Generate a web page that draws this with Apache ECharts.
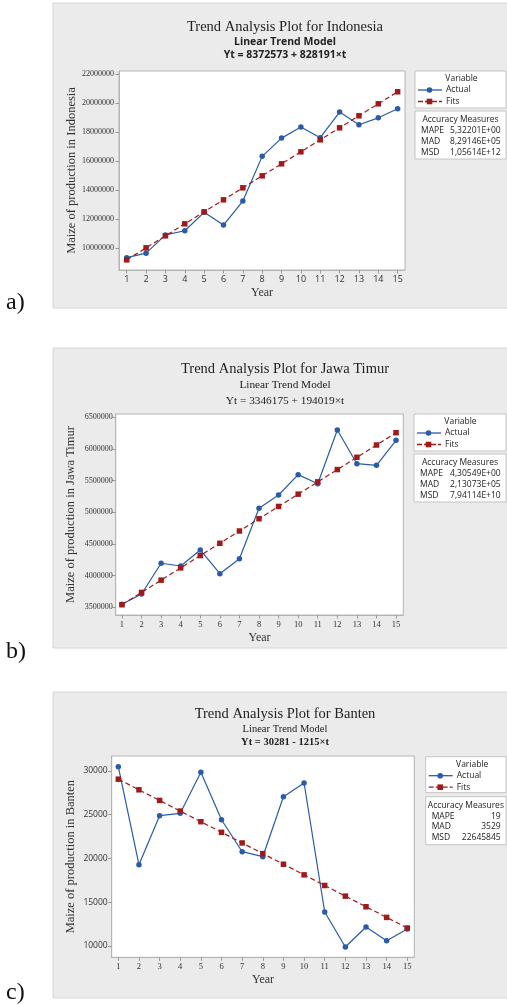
<!DOCTYPE html>
<html><head><meta charset="utf-8">
<script src="https://cdn.jsdelivr.net/npm/echarts@6/dist/echarts.min.js"></script>
<style>html,body{margin:0;padding:0;background:#fff}#c{width:507px;height:1005px}</style>
</head><body><div id="c"></div>
<script>
// ---------------- data ----------------
const years = [1, 2, 3, 4, 5, 6, 7, 8, 9, 10, 11, 12, 13, 14, 15];

const indoActual = [9350000, 9660000, 10920000, 11210000, 12480000, 11600000, 13260000, 16340000, 17600000, 18370000, 17630000, 19400000, 18520000, 19000000, 19630000];
const indoFits = [9200764, 10028955, 10857146, 11685337, 12513528, 13341719, 14169910, 14998101, 15826292, 16654483, 17482674, 18310865, 19139056, 19967247, 20795438];
const indoYTicks = [10000000, 12000000, 14000000, 16000000, 18000000, 20000000, 22000000];

const jatimActual = [3547000, 3710000, 4195000, 4152000, 4405000, 4030000, 4267000, 5063000, 5273000, 5594000, 5450000, 6300000, 5767000, 5742000, 6137000];
const jatimFits = [3540194, 3734213, 3928232, 4122251, 4316270, 4510289, 4704308, 4898327, 5092346, 5286365, 5480384, 5674403, 5868422, 6062441, 6256460];
const jatimYTicks = [3500000, 4000000, 4500000, 5000000, 5500000, 6000000, 6500000];

const bantenActual = [30491, 19291, 24891, 25166, 29851, 24434, 20777, 20206, 27063, 28629, 13886, 9886, 12171, 10606, 11943];
const bantenFits = [29066, 27851, 26636, 25421, 24206, 22991, 21776, 20561, 19346, 18131, 16916, 15701, 14486, 13271, 12056];
const bantenYTicks = [10000, 15000, 20000, 25000, 30000];

const titles = ['Trend Analysis Plot for Indonesia', 'Trend Analysis Plot for Jawa Timur', 'Trend Analysis Plot for Banten'];
const subtitles = ['Linear Trend Model', 'Linear Trend Model', 'Linear Trend Model'];
const equations = ['Yt = 8372573 + 828191×t', 'Yt = 3346175 + 194019×t', 'Yt = 30281 - 1215×t'];
const yNames = ['Maize of production in Indonesia', 'Maize of production in Jawa Timur', 'Maize of production in Banten'];
const panelLabels = ['a)', 'b)', 'c)'];
const seriesNames = ['Actual', 'Fits'];
const measureNames = ['MAPE', 'MAD', 'MSD'];
const measureValues = [
  ['5,32201E+00', '8,29146E+05', '1,05614E+12'],
  ['4,30549E+00', '2,13073E+05', '7,94114E+10'],
  ['19', '3529', '22645845']
];

// ---------------- style / layout ----------------
const SERIF = '"Liberation Serif", "Times New Roman", serif';
const SANS = '"Open Sans", "Noto Sans", sans-serif';
const BLUE = '#2a5ba8';
const RED = '#a11a1a';

const L = [
  { box: [53, 3, 470, 305], grid: [119, 71, 286, 199], ymin: 8500000, ymax: 22230000, ticks: indoYTicks,
    xmin: 0.6, xmax: 15.38, t: [27, 42, 55], tFont: [14.5, 10.5, 10.5], tW: ['normal', 'bold', 'bold'], tF: [SERIF, SANS, SANS],
    yFont: SERIF, yFs: 8, xFont: SANS, xFs: 9, leg: [415, 71, 91, 37, 111, 48], lab: 303,
    actual: indoActual, fits: indoFits, nameGap: 41, xNameGap: 17, yLabMargin: 5 },
  { box: [53, 348, 470, 300], grid: [115.7, 414, 287.6, 201], ymin: 3378000, ymax: 6552000, ticks: jatimYTicks,
    xmin: 0.68, xmax: 15.37, t: [369, 385, 401], tFont: [14.5, 11.3, 11.3], tW: ['normal', 'normal', 'normal'], tF: [SERIF, SERIF, SERIF],
    yFont: SERIF, yFs: 8, xFont: SERIF, xFs: 8.5, leg: [414, 414, 92, 37, 454, 48], lab: 652,
    actual: jatimActual, fits: jatimFits, nameGap: 38, xNameGap: 17, yLabMargin: 3 },
  { box: [53, 692, 470, 306], grid: [111.7, 756, 302.6, 201.3], ymin: 8709, ymax: 31714, ticks: bantenYTicks,
    xmin: 0.68, xmax: 15.34, t: [714, 729, 742], tFont: [14.5, 10.5, 10.5], tW: ['normal', 'normal', 'bold'], tF: [SERIF, SERIF, SERIF],
    yFont: SANS, yFs: 8.5, xFont: SERIF, xFs: 8.5, leg: [425.7, 756.7, 80.3, 36, 796.7, 48], lab: 993,
    actual: bantenActual, fits: bantenFits, nameGap: 34, xNameGap: 17, yLabMargin: 4 }
];

const grids = [], xAxes = [], yAxes = [], series = [], graphics = [];

L.forEach((p, i) => {
  graphics.push({ type: 'rect', z: -10, shape: { x: p.box[0], y: p.box[1], width: p.box[2], height: p.box[3] },
    style: { fill: '#ebebeb', stroke: '#d6d6d6', lineWidth: 1 } });
  [titles[i], subtitles[i], equations[i]].forEach((txt, k) => {
    graphics.push({ type: 'text', x: 285, y: p.t[k], style: { text: txt, fill: '#222', align: 'center', verticalAlign: 'middle',
      font: p.tW[k] + ' ' + p.tFont[k] + 'px ' + p.tF[k] } });
  });
  graphics.push({ type: 'text', x: 6, y: p.lab, style: { text: panelLabels[i], fill: '#111', align: 'left', verticalAlign: 'middle',
    font: '24px ' + SERIF } });
  const [lx, ly, lw, lh, ly2, lh2] = p.leg;
  graphics.push({ type: 'rect', shape: { x: lx, y: ly, width: lw, height: lh }, style: { fill: '#fff', stroke: '#c4c4c4', lineWidth: 1 } });
  graphics.push({ type: 'rect', shape: { x: lx, y: ly2, width: lw, height: lh2 }, style: { fill: '#fff', stroke: '#c4c4c4', lineWidth: 1 } });
  const lf = '8.5px ' + SANS;
  graphics.push({ type: 'text', x: lx + 46.5, y: ly + 8, style: { text: 'Variable', fill: '#222', align: 'center', verticalAlign: 'middle', font: lf } });
  seriesNames.forEach((nm, k) => {
    const yy = ly + 19 + k * 11.5;
    const col = k === 0 ? BLUE : RED;
    graphics.push({ type: 'line', shape: { x1: lx + 3, y1: yy, x2: lx + 27, y2: yy },
      style: { stroke: col, lineWidth: 1.3, lineDash: k === 0 ? null : [5, 2] } });
    if (k === 0) graphics.push({ type: 'circle', shape: { cx: lx + 14.5, cy: yy, r: 2.8 }, style: { fill: col } });
    else graphics.push({ type: 'rect', shape: { x: lx + 11.7, y: yy - 2.8, width: 5.6, height: 5.6 }, style: { fill: col } });
    graphics.push({ type: 'text', x: lx + 31, y: yy, style: { text: nm, fill: '#222', align: 'left', verticalAlign: 'middle', font: lf } });
  });
  graphics.push({ type: 'text', x: lx + lw / 2, y: ly2 + 8.7, style: { text: 'Accuracy Measures', fill: '#222', align: 'center', verticalAlign: 'middle', font: lf } });
  measureNames.forEach((nm, k) => {
    const yy = ly2 + 19.5 + k * 10.8;
    graphics.push({ type: 'text', x: lx + 6, y: yy, style: { text: nm, fill: '#222', align: 'left', verticalAlign: 'middle', font: lf } });
    graphics.push({ type: 'text', x: lx + lw - 5.3, y: yy, style: { text: measureValues[i][k], fill: '#222', align: 'right', verticalAlign: 'middle', font: lf } });
  });

  grids.push({ left: p.grid[0], top: p.grid[1], width: p.grid[2], height: p.grid[3], show: true,
    backgroundColor: '#fff', borderColor: '#b4b4b4', borderWidth: 1 });
  xAxes.push({ type: 'value', gridIndex: i, min: p.xmin, max: p.xmax,
    name: 'Year', nameLocation: 'middle', nameGap: p.xNameGap, nameMoveOverlap: false,
    nameTextStyle: { fontFamily: SERIF, fontSize: 12, color: '#333', verticalAlign: 'top' },
    axisLine: { show: true, lineStyle: { color: '#b4b4b4' } },
    axisTick: { show: true, length: 3.5, lineStyle: { color: '#999' }, customValues: years },
    axisLabel: { fontFamily: p.xFont, fontSize: p.xFs, color: '#333', margin: 5, customValues: years, formatter: v => String(v) },
    splitLine: { show: false } });
  yAxes.push({ type: 'value', gridIndex: i, min: p.ymin, max: p.ymax,
    name: yNames[i], nameLocation: 'middle', nameGap: p.nameGap, nameRotate: 90, nameMoveOverlap: false,
    nameTextStyle: { fontFamily: SERIF, fontSize: 12.5, color: '#333' },
    axisLine: { show: true, lineStyle: { color: '#b4b4b4' } },
    axisTick: { show: true, length: 3.5, lineStyle: { color: '#999' }, customValues: p.ticks },
    axisLabel: { fontFamily: p.yFont, fontSize: p.yFs, color: '#333', margin: p.yLabMargin, customValues: p.ticks, formatter: v => String(v) },
    splitLine: { show: false } });
  series.push({ type: 'line', name: 'Actual', xAxisIndex: i, yAxisIndex: i,
    data: years.map((t, k) => [t, p.actual[k]]), symbol: 'circle', symbolSize: 5.5,
    lineStyle: { color: BLUE, width: 1.2 }, itemStyle: { color: BLUE }, animation: false });
  series.push({ type: 'line', name: 'Fits', xAxisIndex: i, yAxisIndex: i,
    data: years.map((t, k) => [t, p.fits[k]]), symbol: 'rect', symbolSize: 5.5,
    lineStyle: { color: RED, width: 1.2, type: [5, 3] }, itemStyle: { color: RED }, animation: false });
});

const chart = echarts.init(document.getElementById('c'), null, { renderer: 'canvas' });
chart.setOption({
  animation: false,
  backgroundColor: '#fff',
  grid: grids, xAxis: xAxes, yAxis: yAxes, series: series,
  graphic: { elements: graphics }
});
</script></body></html>
